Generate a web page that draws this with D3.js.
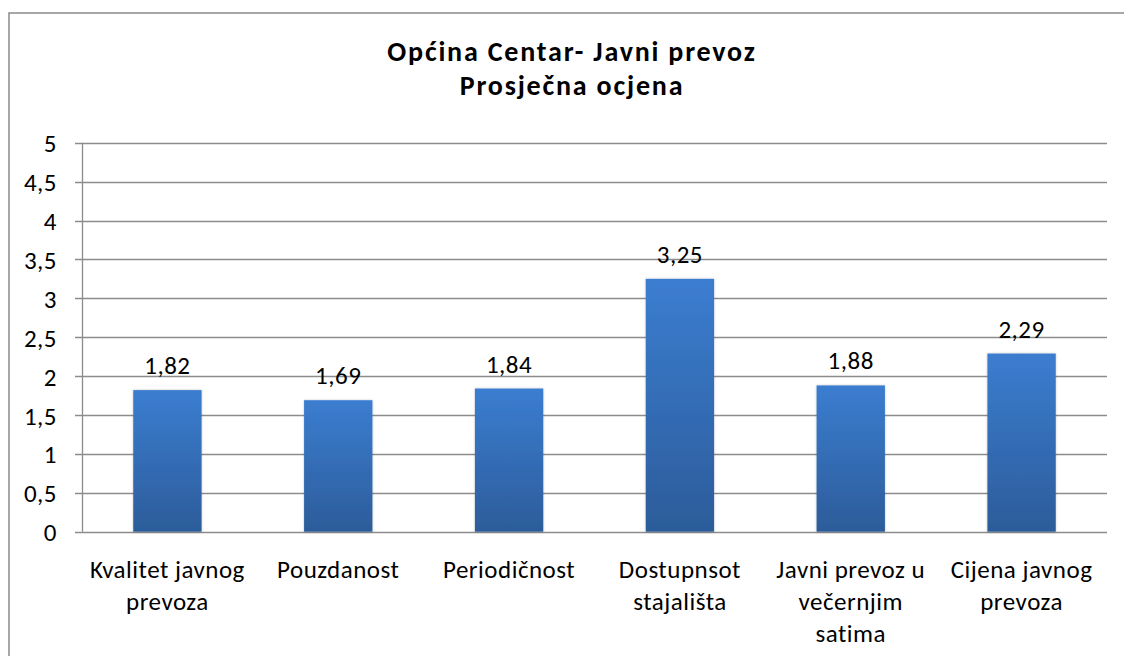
<!DOCTYPE html>
<html>

<head>
    <meta charset="utf-8">
    <title>Općina Centar - Javni prevoz</title>
    <script src="https://cdn.jsdelivr.net/npm/d3@7"></script>
    <style>
        body { margin: 0; background: #fff; }
        text { font-family: Carlito, Calibri, Lato, sans-serif; fill: #000; }
    </style>
</head>

<body>
    <svg width="1124" height="656" id="mainsvg"></svg>
    <script>
        // data
        const categories = [
            'Kvalitet javnog\nprevoza',
            'Pouzdanost',
            'Periodičnost',
            'Dostupnsot\nstajališta',
            'Javni prevoz u\nvečernjim\nsatima',
            'Cijena javnog\nprevoza'
        ];
        const values = [1.82, 1.69, 1.84, 3.25, 1.88, 2.29];
        const yTicks = [0, 0.5, 1, 1.5, 2, 2.5, 3, 3.5, 4, 4.5, 5];
        const titleLines = ['Općina Centar- Javni prevoz', 'Prosječna ocjena'];

        const svg = d3.select('#mainsvg');
        const fmt = v => String(v).replace('.', ',');

        const margin = { left: 82, right: 17, top: 142.7, bottom: 124.3 };
        const width = +svg.attr('width');
        const height = +svg.attr('height');
        const labelSize = 25;
        const labelSpacing = 0.5;

        // outer chart frame (runs past the right/bottom edge of the picture)
        svg.append('rect')
            .attr('x', 9).attr('y', 13)
            .attr('width', 1130).attr('height', 660)
            .attr('fill', 'none')
            .attr('stroke', '#8a8a8a')
            .attr('stroke-width', 1.5);

        // gradient for bars, light at top, darker at bottom
        const defs = svg.append('defs');
        const grad = defs.append('linearGradient')
            .attr('id', 'barGrad')
            .attr('x1', 0).attr('y1', 0).attr('x2', 0).attr('y2', 1);
        grad.append('stop').attr('offset', '0%').attr('stop-color', '#3b7dd0');
        grad.append('stop').attr('offset', '100%').attr('stop-color', '#2c5c9a');

        const shadow = defs.append('filter').attr('id', 'shadow')
            .attr('x', '-10%').attr('y', '-10%').attr('width', '120%').attr('height', '120%');
        shadow.append('feDropShadow')
            .attr('dx', 0).attr('dy', 0).attr('stdDeviation', 1.2)
            .attr('flood-color', '#000').attr('flood-opacity', 0.25);

        const x = d3.scaleBand()
            .domain(categories)
            .range([margin.left, width - margin.right])
            .paddingInner(0.6)
            .paddingOuter(0.3);

        const y = d3.scaleLinear()
            .domain([0, 5])
            .range([height - margin.bottom, margin.top]);

        // gridlines
        svg.append('g')
            .selectAll('line')
            .data(yTicks)
            .join('line')
            .attr('x1', margin.left - 7)
            .attr('x2', width - margin.right)
            .attr('y1', d => Math.round(y(d)) + 0.5)
            .attr('y2', d => Math.round(y(d)) + 0.5)
            .attr('stroke', '#8c8c8c')
            .attr('stroke-width', 1.3);

        // y axis line
        svg.append('line')
            .attr('x1', margin.left + 0.5).attr('x2', margin.left + 0.5)
            .attr('y1', y(5)).attr('y2', y(0))
            .attr('stroke', '#8c8c8c')
            .attr('stroke-width', 1.3);

        // y tick labels
        svg.append('g')
            .selectAll('text')
            .data(yTicks)
            .join('text')
            .attr('x', 57)
            .attr('y', d => y(d))
            .attr('dy', '0.38em')
            .attr('text-anchor', 'end')
            .attr('font-size', labelSize)
            .attr('letter-spacing', labelSpacing)
            .text(d => fmt(d));

        // bars
        svg.append('g')
            .selectAll('rect')
            .data(values)
            .join('rect')
            .attr('x', (d, i) => x(categories[i]))
            .attr('y', d => y(d))
            .attr('width', x.bandwidth())
            .attr('height', d => y(0) - y(d))
            .attr('fill', 'url(#barGrad)')
            .attr('filter', 'url(#shadow)');

        // value labels
        svg.append('g')
            .selectAll('text')
            .data(values)
            .join('text')
            .attr('x', (d, i) => x(categories[i]) + x.bandwidth() / 2)
            .attr('y', d => y(d) - 16)
            .attr('text-anchor', 'middle')
            .attr('font-size', labelSize)
            .attr('letter-spacing', labelSpacing)
            .text(d => fmt(d));

        // category labels
        svg.append('g')
            .selectAll('text')
            .data(categories)
            .join('text')
            .attr('x', d => x(d) + x.bandwidth() / 2)
            .attr('y', 578)
            .attr('text-anchor', 'middle')
            .attr('font-size', labelSize)
            .attr('letter-spacing', labelSpacing)
            .selectAll('tspan')
            .data(d => d.split('\n').map((t, j) => ({ t, j, cx: x(d) + x.bandwidth() / 2 })))
            .join('tspan')
            .attr('x', d => d.cx)
            .attr('dy', d => d.j === 0 ? 0 : 32)
            .text(d => d.t);

        // title, one text per line
        svg.append('g')
            .selectAll('text')
            .data(titleLines)
            .join('text')
            .attr('x', 572)
            .attr('y', (d, i) => 61 + i * 34)
            .attr('text-anchor', 'middle')
            .attr('font-size', 28)
            .attr('font-weight', 'bold')
            .attr('letter-spacing', 1.8)
            .text(d => d);
    </script>
</body>

</html>
